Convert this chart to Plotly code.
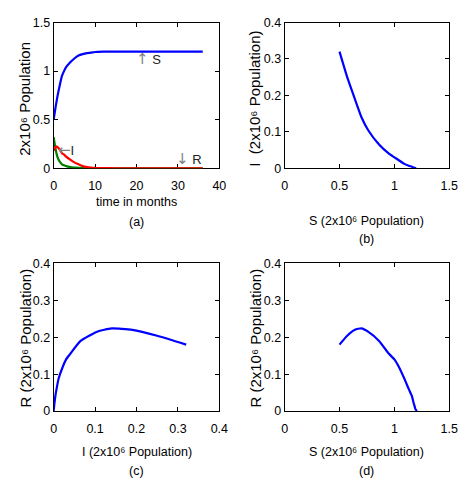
import plotly.graph_objects as go

# ---- data ----
t = [0, 0.25, 0.5, 0.75, 1, 1.5, 2, 2.5, 3, 4, 5, 6, 7, 8, 9, 10, 12, 15, 20, 25, 30, 36]
S = [0.50, 0.57, 0.64, 0.70, 0.76, 0.86, 0.95, 1.00, 1.04, 1.09, 1.13, 1.16, 1.175, 1.185,
     1.19, 1.197, 1.2, 1.2, 1.2, 1.2, 1.2, 1.2]
I = [0.32, 0.25, 0.19, 0.14, 0.105, 0.065, 0.04, 0.03, 0.022, 0.012, 0.007, 0.004, 0.002,
     0.001, 0.0005, 0, 0, 0, 0, 0, 0, 0]
R = [0.18, 0.204, 0.22, 0.224, 0.215, 0.19, 0.155, 0.14, 0.12, 0.088, 0.06, 0.04, 0.022,
     0.012, 0.006, 0.003, 0.001, 0, 0, 0, 0, 0]

ticks_t = [0, 10, 20, 30, 40]
ticks_15 = [0, 0.5, 1, 1.5]
ticks_04 = [0, 0.1, 0.2, 0.3, 0.4]

W, H = 470, 487
FONT = "Liberation Sans, Arial, DejaVu Sans, sans-serif"


def px_x(p):
    return p / W


def px_y(p):
    return 1 - p / H


fig = go.Figure()


def line(color):
    return dict(color=color, width=2.2, shape="spline", smoothing=0.5)


fig.add_trace(go.Scatter(x=t, y=S, mode="lines", line=line("#0000ff"), xaxis="x", yaxis="y"))
fig.add_trace(go.Scatter(x=t, y=I, mode="lines", line=line("#008000"), xaxis="x", yaxis="y"))
fig.add_trace(go.Scatter(x=t, y=R, mode="lines", line=line("#ff0000"), xaxis="x", yaxis="y"))
fig.add_trace(go.Scatter(x=S, y=I, mode="lines", line=line("#0000ff"), xaxis="x2", yaxis="y2"))
fig.add_trace(go.Scatter(x=I, y=R, mode="lines", line=line("#0000ff"), xaxis="x3", yaxis="y3"))
fig.add_trace(go.Scatter(x=S, y=R, mode="lines", line=line("#0000ff"), xaxis="x4", yaxis="y4"))


def axis(domain, rng, tv, anchor, standoff=None):
    d = dict(domain=domain, range=rng, tickvals=tv, ticktext=[f"{v:g}" for v in tv],
             ticks="inside", ticklen=4, tickcolor="black", showline=True, linecolor="black",
             linewidth=1, mirror="ticks", showgrid=False, zeroline=False, anchor=anchor,
             tickfont=dict(family=FONT, size=12.5, color="black"), fixedrange=True)
    if standoff is not None:
        d["ticklabelstandoff"] = standoff
    return d


xa = [px_x(52), px_x(222)]
xb = [px_x(289), px_x(458)]
ytop = [px_y(166), px_y(16)]
ybot = [px_y(416), px_y(264)]

fig.update_layout(
    width=W, height=H, margin=dict(l=0, r=0, t=0, b=0),
    paper_bgcolor="white", plot_bgcolor="white", showlegend=False,
    xaxis=axis(xa, [0, 40], ticks_t, "y", 6),
    yaxis=axis(ytop, [0, 1.5], ticks_15, "x"),
    xaxis2=axis(xb, [0, 1.5], ticks_15, "y2", 6),
    yaxis2=axis(ytop, [0, 0.4], ticks_04, "x2"),
    xaxis3=axis(xa, [0, 0.4], ticks_04, "y3", 6),
    yaxis3=axis(ybot, [0, 0.4], ticks_04, "x3"),
    xaxis4=axis(xb, [0, 1.5], ticks_15, "y4", 6),
    yaxis4=axis(ybot, [0, 0.4], ticks_04, "x4"),
)
fig.layout.xaxis.layer = "below traces"

ann = []


def txt(x, y, s, size=12.5, angle=0):
    ann.append(dict(x=px_x(x), y=px_y(y), xref="paper", yref="paper", text=s,
                    showarrow=False, textangle=angle, xanchor="center", yanchor="middle",
                    font=dict(family=FONT, size=size, color="black")))


sup = "2x10⁶ Population"
# x titles and panel labels
txt(137, 201, "time in months")
txt(137, 221, "(a)")
txt(373, 220, "S (" + sup + ")")
txt(373, 239, "(b)")
txt(137, 458, "I (" + sup + ")")
txt(137, 478, "(c)")
txt(373, 458, "S (" + sup + ")")
txt(373, 478, "(d)")
# y titles
txt(22, 94, sup, size=15, angle=-90)
txt(258, 94, "I  (" + sup + ")", size=15, angle=-90)
txt(23, 341, "R (" + sup + ")", size=15, angle=-90)
txt(259, 341, "R (" + sup + ")", size=15, angle=-90)

# curve labels inside panel (a)
ARW = "<span style='font-family:DejaVu Sans;font-size:15px;color:#808080'>{}</span>"
lab = dict(showarrow=False, xref="x", yref="y", xanchor="left", yanchor="middle",
           font=dict(family=FONT, size=13, color="#222"))
ann.append(dict(x=19.5, y=1.12, text=ARW.format("↑") + " S", **lab))
ann.append(dict(x=0.6, y=0.19, text=ARW.format("←") + "I", **lab))
ann.append(dict(x=29, y=0.10, text=ARW.format("↓") + " R", **lab))

fig.update_layout(annotations=ann)
fig.write_html("out.html", config={"displayModeBar": False},
               post_script="document.body.style.margin='0';document.body.style.padding='0';")
